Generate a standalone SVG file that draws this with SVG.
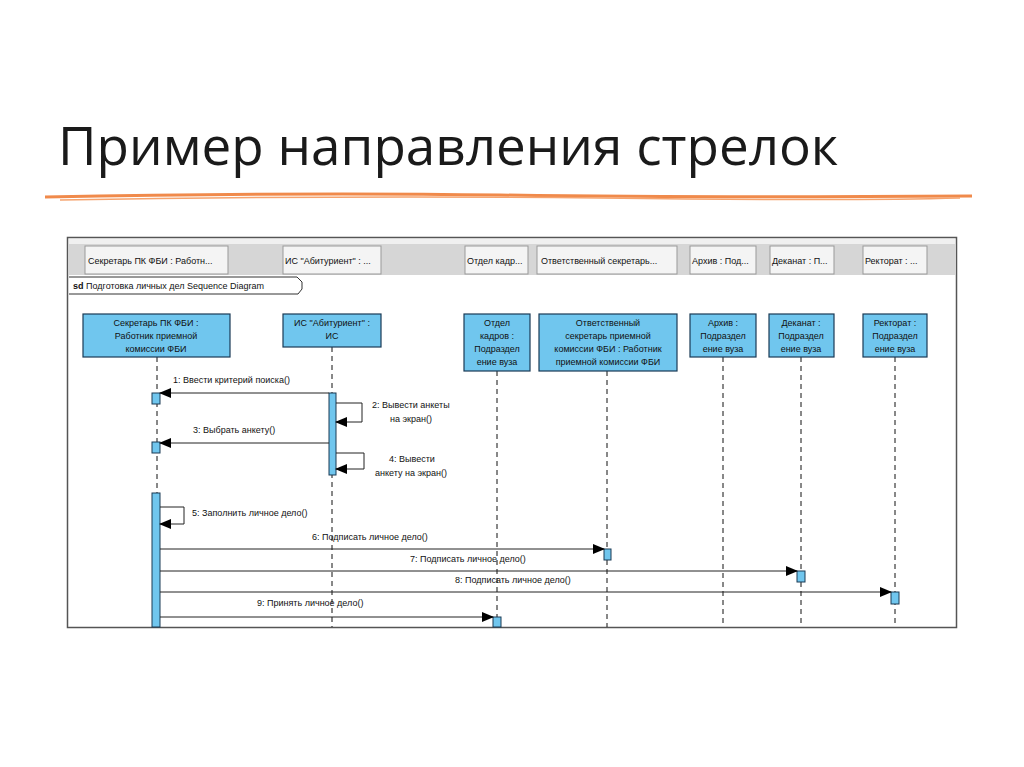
<svg xmlns="http://www.w3.org/2000/svg" width="1024" height="767" viewBox="0 0 1024 767">
<style>
.t{font-family:"Liberation Sans",Arial,sans-serif;font-size:9px;fill:#111}
.tab{fill:#f4f4f4;stroke:#999;stroke-width:1}
.gap{fill:#d6d6d6}
.obj{fill:#70c6ee;stroke:#1a3a55;stroke-width:1.2}
.ll{stroke:#111;stroke-width:1;stroke-dasharray:5,4}
.act{fill:#70c6ee;stroke:#1a3a55;stroke-width:1}
.m{stroke:#222;stroke-width:1;fill:none;marker-end:url(#ah)}
.c{text-anchor:middle}
</style>
<defs>
<marker id="ah" markerWidth="12" markerHeight="10" refX="11" refY="5" orient="auto" markerUnits="userSpaceOnUse"><path d="M0,0 L12,5 L0,10 Z" fill="#000"/></marker>
</defs>
<rect width="1024" height="767" fill="#fff"/>
<text x="58" y="165" font-family="'Open Sans','Noto Sans',sans-serif" font-size="53" fill="#1a1a1a">Пример направления стрелок</text>
<path d="M45,197 Q300,192 500,195 T972,196" stroke="#f08a4b" stroke-width="3" fill="none"/>
<path d="M60,200 Q350,195 600,198 T960,198" stroke="#f5a36e" stroke-width="1.5" fill="none"/>
<g id="frame">
<rect x="67.5" y="237.5" width="889" height="390" fill="#fff" stroke="#555" stroke-width="1.5"/>
<rect x="69" y="244" width="886" height="31" fill="#d6d6d6"/>
<rect x="69" y="239" width="886" height="5" fill="#f0f0f0"/>
<rect class="tab" x="85" y="246" width="143" height="28"/><text class="t" x="88" y="264" font-size="8">Секретарь ПК ФБИ : Работн...</text>
<rect class="tab" x="283" y="246" width="98" height="28"/><text class="t" x="285" y="264" font-size="8">ИС "Абитуриент" : ...</text>
<rect class="tab" x="465" y="246" width="63" height="28"/><text class="t" x="467" y="264" font-size="8">Отдел кадр...</text>
<rect class="tab" x="537" y="246" width="140" height="28"/><text class="t" x="541" y="264" font-size="8">Ответственный секретарь...</text>
<rect class="tab" x="690" y="246" width="66" height="28"/><text class="t" x="692" y="264" font-size="8">Архив : Под...</text>
<rect class="tab" x="770" y="246" width="64" height="28"/><text class="t" x="772" y="264" font-size="8">Деканат : П...</text>
<rect class="tab" x="863" y="246" width="64" height="28"/><text class="t" x="865" y="264" font-size="8">Ректорат : ...</text>
<path d="M69,277 H297 L302,282 V289 L298,294 H69" fill="#fff" stroke="#333" stroke-width="1"/>
<text class="t" x="73" y="289"><tspan font-weight="bold">sd</tspan> Подготовка личных дел Sequence Diagram</text>
</g>
<g id="lifelines">
<line class="ll" x1="157" y1="357" x2="157" y2="627"/>
<line class="ll" x1="332" y1="347" x2="332" y2="627"/>
<line class="ll" x1="497" y1="371" x2="497" y2="627"/>
<line class="ll" x1="607" y1="371" x2="607" y2="627"/>
<line class="ll" x1="723" y1="357" x2="723" y2="627"/>
<line class="ll" x1="801" y1="357" x2="801" y2="627"/>
<line class="ll" x1="895" y1="357" x2="895" y2="627"/>
</g>
<g id="n1"><rect class="obj" x="83" y="314" width="147" height="43"/><text class="t c" x="156" y="326">Секретарь ПК ФБИ :</text><text class="t c" x="156" y="339">Работник приемной</text><text class="t c" x="156" y="352">комиссии ФБИ</text></g>
<g id="n2"><rect class="obj" x="283" y="314" width="98" height="33"/><text class="t c" x="332" y="326">ИС "Абитуриент" :</text><text class="t c" x="332" y="339">ИС</text></g>
<g id="n3"><rect class="obj" x="464" y="314" width="66" height="57"/><text class="t c" x="497" y="326">Отдел</text><text class="t c" x="497" y="339">кадров :</text><text class="t c" x="497" y="352">Подраздел</text><text class="t c" x="497" y="365">ение вуза</text></g>
<g id="n4"><rect class="obj" x="539" y="314" width="138" height="57"/><text class="t c" x="608" y="326">Ответственный</text><text class="t c" x="608" y="339">секретарь приемной</text><text class="t c" x="608" y="352">комиссии ФБИ : Работник</text><text class="t c" x="608" y="365">приемной комиссии ФБИ</text></g>
<g id="n5"><rect class="obj" x="690" y="314" width="66" height="43"/><text class="t c" x="723" y="326">Архив :</text><text class="t c" x="723" y="339">Подраздел</text><text class="t c" x="723" y="352">ение вуза</text></g>
<g id="n6"><rect class="obj" x="769" y="314" width="65" height="43"/><text class="t c" x="801" y="326">Деканат :</text><text class="t c" x="801" y="339">Подраздел</text><text class="t c" x="801" y="352">ение вуза</text></g>
<g id="n7"><rect class="obj" x="863" y="314" width="64" height="43"/><text class="t c" x="895" y="326">Ректорат :</text><text class="t c" x="895" y="339">Подраздел</text><text class="t c" x="895" y="352">ение вуза</text></g>
<g id="activations">
<rect class="act" x="152" y="393" width="8" height="11"/>
<rect class="act" x="152" y="442" width="8" height="11"/>
<rect class="act" x="152" y="493" width="8" height="134"/>
<rect class="act" x="329" y="393" width="7" height="82"/>
<rect class="act" x="604" y="549" width="7" height="11"/>
<rect class="act" x="797" y="571" width="8" height="11"/>
<rect class="act" x="891" y="592" width="8" height="12"/>
<rect class="act" x="493" y="617" width="8" height="10"/>
</g>
<g id="connectors">
<path class="m" d="M329,393 H160"/>
<path class="m" d="M336,403 H362 V422 H336"/>
<path class="m" d="M329,443 H160"/>
<path class="m" d="M336,453 H364 V469 H336"/>
<path class="m" d="M160,507 H184 V524 H160"/>
<path class="m" d="M160,549 H604"/>
<path class="m" d="M160,571 H797"/>
<path class="m" d="M160,592 H891"/>
<path class="m" d="M160,617 H493"/>
</g>
<g id="labels">
<text class="t" x="173" y="383">1: Ввести критерий поиска()</text>
<text class="t" x="372" y="408">2: Вывести анкеты</text>
<text class="t" x="390" y="422">на экран()</text>
<text class="t" x="193" y="433">3: Выбрать анкету()</text>
<text class="t" x="389" y="462">4: Вывести</text>
<text class="t" x="375" y="476">анкету на экран()</text>
<text class="t" x="192" y="516">5: Заполнить личное дело()</text>
<text class="t" x="312" y="540">6: Подписать личное дело()</text>
<text class="t" x="410" y="562">7: Подписать личное дело()</text>
<text class="t" x="455" y="583">8: Подписать личное дело()</text>
<text class="t" x="257" y="606">9: Принять личное дело()</text>
</g>
</svg>
